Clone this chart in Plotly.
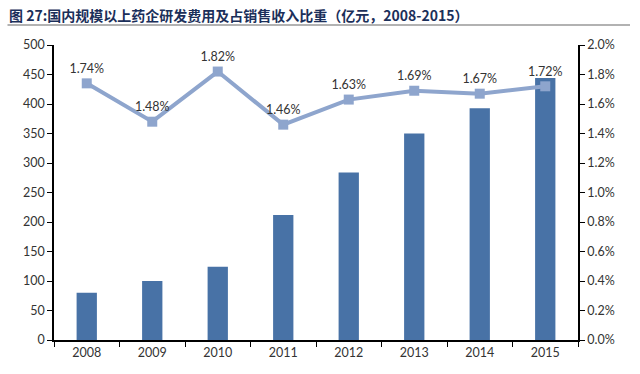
import plotly.graph_objects as go

years = ["2008", "2009", "2010", "2011", "2012", "2013", "2014", "2015"]
rd_expense = [80, 100, 124, 212, 284, 350, 393, 444]
ratio = [0.0174, 0.0148, 0.0182, 0.0146, 0.0163, 0.0169, 0.0167, 0.0172]
ratio_labels = ["1.74%", "1.48%", "1.82%", "1.46%", "1.63%", "1.69%", "1.67%", "1.72%"]
title_text = "图 27:国内规模以上药企研发费用及占销售收入比重（亿元，2008-2015）"

cjk_font = "Noto Sans CJK SC, sans-serif"
num_font = "Lato, Liberation Sans, sans-serif"

W, H = 640, 374
ML, MR, MT, MB = 54, 62, 45, 34
PW, PH = W - ML - MR, H - MT - MB

fig = go.Figure()
fig.add_trace(go.Bar(
    x=years, y=rd_expense, marker=dict(color="#4872a6", line=dict(width=0)),
    width=0.31, yaxis="y", showlegend=False,
))
fig.add_trace(go.Scatter(
    x=years, y=ratio, yaxis="y2", mode="lines+markers+text",
    line=dict(color="#8ea5cd", width=4),
    marker=dict(symbol="square", size=10, color="#8ea5cd"),
    text=ratio_labels, textposition="top center",
    textfont=dict(size=12.5, color="#333333", family=num_font),
    showlegend=False, cliponaxis=False,
))

axis_common = dict(
    showline=True, linecolor="#000000", linewidth=1.5, ticks="outside",
    ticklen=5, tickcolor="#000000", showgrid=False, zeroline=False,
    automargin=False, tickfont=dict(size=12.5, color="#333333", family=num_font),
)

fig.update_layout(
    width=W, height=H,
    margin=dict(l=ML, r=MR, t=MT, b=MB),
    plot_bgcolor="white", paper_bgcolor="white",
    font=dict(family=num_font, size=12, color="#333333"),
    xaxis=dict(type="category", tickson="boundaries", **axis_common),
    yaxis=dict(range=[0, 500], dtick=50, **axis_common),
    yaxis2=dict(range=[0, 0.02], dtick=0.002, tickformat=".1%",
                overlaying="y", side="right", **axis_common),
)

fig.add_annotation(
    text="<b>" + title_text + "</b>", xref="paper", yref="paper",
    x=(7 - ML) / PW, y=1.0, xanchor="left", yanchor="middle", yshift=30,
    showarrow=False, font=dict(size=14, color="#1b2f5a", family=cjk_font),
)
# separator rule under the title, drawn as a plain arrow-less annotation line
line_y = 1.0 + 20 / PH
fig.add_annotation(
    text="", xref="paper", yref="paper", x=(630 - ML) / PW, y=line_y,
    ax=-624, ay=0, axref="pixel", ayref="pixel", showarrow=True,
    arrowhead=0, arrowwidth=1.5, arrowcolor="#999999", standoff=0, startstandoff=0,
)

# remove the page's default body margin so the figure sits at the window's corner
fig.write_html(
    "out.html",
    config={"displayModeBar": False},
    post_script="document.body.style.margin='0px';document.body.style.overflow='hidden';",
)
